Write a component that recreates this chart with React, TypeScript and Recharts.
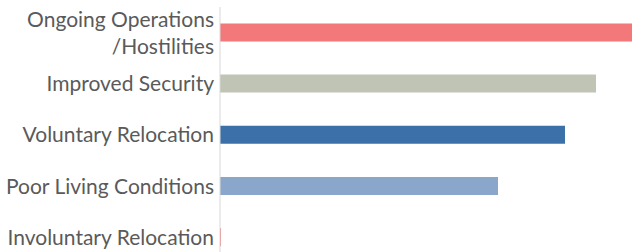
import React from 'react';
import { BarChart, Bar, XAxis, YAxis, Cell } from 'recharts';

// reasons, top to bottom
const categories = [
    'Ongoing Operations\n/Hostilities',
    'Improved Security',
    'Voluntary Relocation',
    'Poor Living Conditions',
    'Involuntary Relocation',
];
const values = [41.2, 37.6, 34.5, 27.8, 0.1];
const barColors = ['#F2787A', '#C0C4B5', '#3C70A9', '#8AA6CA', '#F2787A'];

const data = categories.map((name, i) => ({ name, value: values[i] }));

const FONT_SIZE = 21;
const LINE_HEIGHT = 27;

// tick ที่รองรับหลายบรรทัด (ตัดด้วย \n)
const MultiLineTick = (props: any) => {
    const { x, y, payload } = props;
    const lines: string[] = String(payload.value).split('\n');
    const n = lines.length;
    return (
        <text
            x={x}
            y={y}
            textAnchor="end"
            fill="#5A5A5A"
            fontSize={FONT_SIZE}
            fontFamily="Lato, 'Open Sans', sans-serif"
        >
            {lines.map((line, i) => (
                <tspan key={i} x={x} y={y + (i - (n - 1) / 2) * LINE_HEIGHT} dy="0.355em">
                    {line}
                </tspan>
            ))}
        </text>
    );
};

export default function App() {
    return (
        <div style={{ position: 'absolute', left: 0, top: 0, width: 632, height: 252, overflow: 'hidden', background: '#fff' }}>
            <BarChart
                width={632}
                height={263}
                data={data}
                layout="vertical"
                margin={{ top: 7, right: 0, left: 0, bottom: 0 }}
                barCategoryGap="32%"
            >
                <XAxis type="number" hide domain={[0, 41.2]} />
                <YAxis
                    type="category"
                    dataKey="name"
                    width={220}
                    axisLine={{ stroke: '#D9D9D9' }}
                    tickLine={false}
                    tickSize={0}
                    tickMargin={6}
                    tick={<MultiLineTick />}
                    interval={0}
                />
                <Bar dataKey="value" isAnimationActive={false}>
                    {data.map((d, i) => (
                        <Cell key={d.name} fill={barColors[i]} />
                    ))}
                </Bar>
            </BarChart>
        </div>
    );
}
